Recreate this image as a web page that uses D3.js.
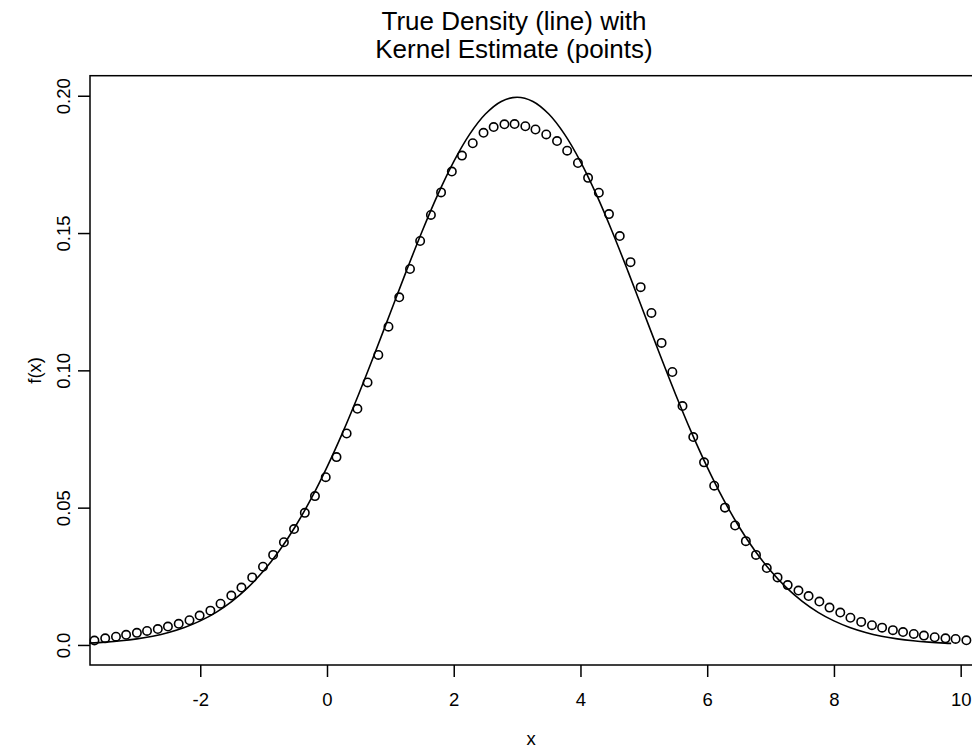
<!doctype html>
<html>
<head>
<style>
  body { margin: 0; background: #fff; }
  text { font-family: "Liberation Sans", Arial, sans-serif; fill: #000; }
</style>
<script src="https://d3js.org/d3.v7.min.js"></script>
</head>
<body>
<svg width="972" height="750"></svg>
<script>

// kernel estimate (points)
var kernX = [-3.67, -3.50, -3.33, -3.17, -3.00, -2.84, -2.67, -2.51, -2.34, -2.17,
             -2.01, -1.84, -1.68, -1.51, -1.35, -1.18, -1.01, -0.85, -0.68, -0.52,
             -0.35, -0.19, -0.02, 0.15, 0.31, 0.48, 0.64, 0.81, 0.97, 1.14,
             1.31, 1.47, 1.64, 1.80, 1.97, 2.13, 2.30, 2.47, 2.63, 2.80,
             2.96, 3.13, 3.29, 3.46, 3.63, 3.79, 3.96, 4.12, 4.29, 4.45,
             4.62, 4.79, 4.95, 5.12, 5.28, 5.45, 5.61, 5.78, 5.95, 6.11,
             6.28, 6.44, 6.61, 6.77, 6.94, 7.11, 7.27, 7.44, 7.60, 7.77,
             7.93, 8.10, 8.26, 8.43, 8.60, 8.76, 8.93, 9.09, 9.26, 9.42,
             9.59, 9.76, 9.92, 10.09]
var kernY = [0.0016, 0.0024, 0.0030, 0.0037, 0.0044, 0.0051, 0.0058, 0.0067, 0.0077, 0.0090,
             0.0107, 0.0125, 0.0150, 0.0180, 0.0209, 0.0246, 0.0285, 0.0328, 0.0374, 0.0422,
             0.0481, 0.0542, 0.0611, 0.0684, 0.0770, 0.0860, 0.0956, 0.1056, 0.1159, 0.1266,
             0.1369, 0.1471, 0.1566, 0.1648, 0.1724, 0.1782, 0.1827, 0.1865, 0.1886, 0.1896,
             0.1897, 0.1889, 0.1877, 0.1859, 0.1835, 0.1800, 0.1755, 0.1701, 0.1647, 0.1569,
             0.1489, 0.1394, 0.1303, 0.1209, 0.1100, 0.0994, 0.0870, 0.0757, 0.0665, 0.0580,
             0.0500, 0.0435, 0.0378, 0.0328, 0.0280, 0.0246, 0.0218, 0.0198, 0.0178, 0.0158,
             0.0136, 0.0118, 0.0099, 0.0084, 0.0072, 0.0063, 0.0054, 0.0047, 0.0040, 0.0034,
             0.0028, 0.0024, 0.0022, 0.0017]

// true density (line)
var trueX = [-3.75, -3.5, -3.25, -3, -2.75, -2.5, -2.25, -2, -1.75, -1.5, -1.25, -1, -0.75, -0.5,
             -0.25, 0, 0.25, 0.5, 0.75, 1, 1.25, 1.5, 1.75, 2, 2.25, 2.5, 2.75, 3,
             3.25, 3.5, 3.75, 4, 4.25, 4.5, 4.75, 5, 5.25, 5.5, 5.75, 6, 6.25, 6.5,
             6.75, 7, 7.25, 7.5, 7.75, 8, 8.25, 8.5, 8.75, 9, 9.25, 9.5, 9.75, 9.85]
var trueY = [0.00067, 0.00102, 0.00151, 0.00222, 0.00320, 0.00455, 0.00636, 0.00876, 0.01188, 0.01587,
             0.02086, 0.02700, 0.03439, 0.04314, 0.05327, 0.06476, 0.07751, 0.09132, 0.10594, 0.12099,
             0.13603, 0.15057, 0.16408, 0.17603, 0.18593, 0.19333, 0.19792, 0.19947,
             0.19792, 0.19333, 0.18593, 0.17603, 0.16408, 0.15057, 0.13603, 0.12099, 0.10594, 0.09132,
             0.07751, 0.06476, 0.05327, 0.04314, 0.03439, 0.02700, 0.02086, 0.01587, 0.01188, 0.00876,
             0.00636, 0.00455, 0.00320, 0.00222, 0.00151, 0.00102, 0.00067, 0.00057]

var xTicks = [-2, 0, 2, 4, 6, 8, 10]
var yTicks = [0, 0.05, 0.10, 0.15, 0.20]
var yTickLabels = ["0.0", "0.05", "0.10", "0.15", "0.20"]

var svg = d3.select("svg")
var plotL = 90, plotR = 975, plotT = 75.7, plotB = 665

var xScale = d3.scaleLinear().domain([-3.74, 10.226]).range([plotL, plotR])
var yScale = d3.scaleLinear().domain([-0.0073, 0.2073]).range([plotB, plotT])

svg.append("rect")
   .attr("width", 972).attr("height", 750).attr("fill", "#fff")

// plot box
svg.append("rect")
   .attr("x", plotL).attr("y", plotT)
   .attr("width", plotR - plotL).attr("height", plotB - plotT)
   .attr("fill", "none").attr("stroke", "#000").attr("stroke-width", 1.5)

// x axis
var xAxis = svg.append("g")
   .attr("transform", "translate(0," + plotB + ")")
   .call(d3.axisBottom(xScale).tickValues(xTicks).tickSize(12).tickPadding(16)
         .tickFormat(function(d) { return d; }))
xAxis.select(".domain").remove()
xAxis.selectAll("line").attr("stroke-width", 1.5)
xAxis.selectAll("text").attr("font-size", "18.5px")
     .style("font-family", "'Liberation Sans', Arial, sans-serif")

// y axis, labels rotated like R's default
var yAxis = svg.append("g")
   .attr("transform", "translate(" + plotL + ",0)")
   .call(d3.axisLeft(yScale).tickValues(yTicks).tickSize(12)
         .tickFormat(function(d, i) { return yTickLabels[i]; }))
yAxis.select(".domain").remove()
yAxis.selectAll("line").attr("stroke-width", 1.5)
yAxis.selectAll("text")
     .attr("font-size", "18.5px")
     .style("font-family", "'Liberation Sans', Arial, sans-serif")
     .attr("x", null).attr("dy", null)
     .attr("text-anchor", "middle")
     .attr("transform", "translate(-20,0) rotate(-90)")

// true density line
var line = d3.line()
   .x(function(d, i) { return xScale(trueX[i]); })
   .y(function(d) { return yScale(d); })
   .curve(d3.curveCatmullRom)

svg.append("path")
   .datum(trueY)
   .attr("d", line)
   .attr("fill", "none")
   .attr("stroke", "#000")
   .attr("stroke-width", 1.6)

// kernel estimate points
svg.selectAll(".pt")
   .data(kernY).enter()
   .append("circle")
   .attr("class", "pt")
   .attr("cx", function(d, i) { return xScale(kernX[i]); })
   .attr("cy", function(d) { return yScale(d); })
   .attr("r", 4.2)
   .attr("fill", "none")
   .attr("stroke", "#000")
   .attr("stroke-width", 1.6)

// titles and axis labels
svg.append("text")
   .attr("x", 514).attr("y", 30)
   .attr("text-anchor", "middle")
   .attr("font-size", "26px")
   .text("True Density (line) with")

svg.append("text")
   .attr("x", 514).attr("y", 58)
   .attr("text-anchor", "middle")
   .attr("font-size", "26px")
   .text("Kernel Estimate (points)")

svg.append("text")
   .attr("x", (plotL + 972) / 2).attr("y", 745)
   .attr("text-anchor", "middle")
   .attr("font-size", "18.5px")
   .text("x")

svg.append("text")
   .attr("transform", "translate(41," + (plotT + plotB) / 2 + ") rotate(-90)")
   .attr("text-anchor", "middle")
   .attr("font-size", "18.5px")
   .text("f(x)")

</script>
</body>
</html>
